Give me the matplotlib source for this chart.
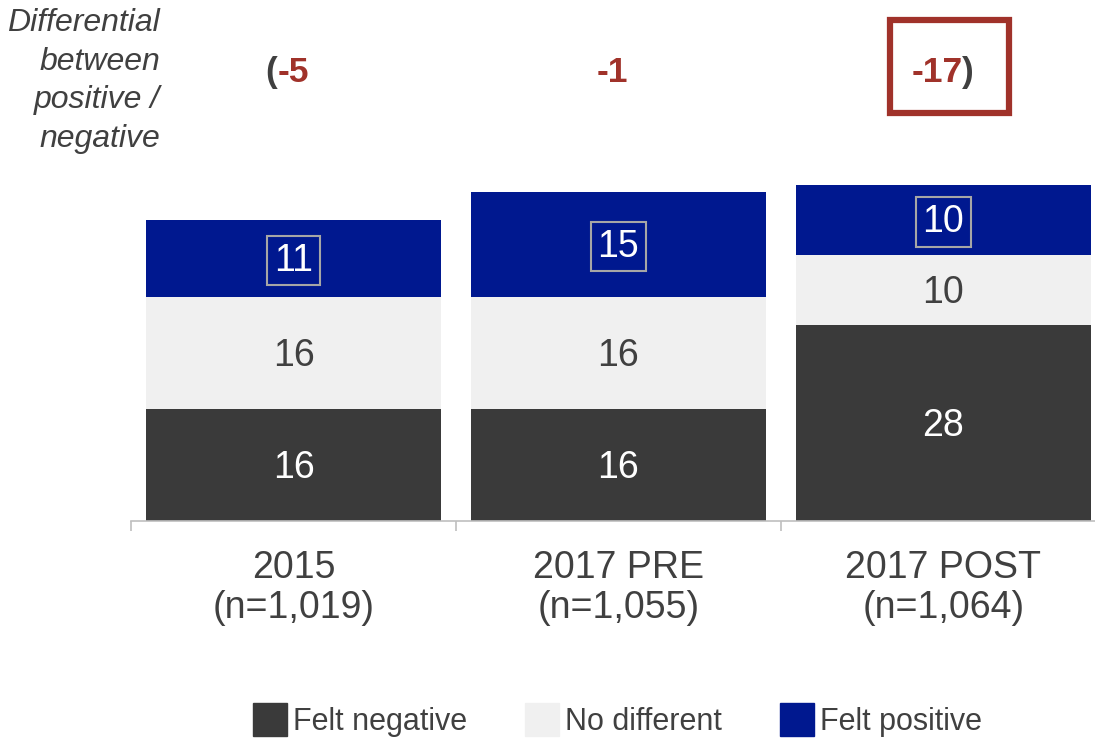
import numpy as np
import matplotlib
matplotlib.use("Agg")
import matplotlib.pyplot as plt
from matplotlib.patches import Rectangle, Patch

plt.rcParams['font.family'] = ['Liberation Sans', 'DejaVu Sans']

# data
groups = ['2015\n(n=1,019)', '2017 PRE\n(n=1,055)', '2017 POST\n(n=1,064)']
negative = [16, 16, 28]
no_diff = [16, 16, 10]
positive = [11, 15, 10]
diffs = [-5, -1, -17]

c_neg = '#3a3a3a'
c_mid = '#f0f0f0'
c_pos = '#00188f'
c_red = '#a0322a'
c_txt = '#404040'

fig = plt.figure(figsize=(10.95, 7.4), dpi=100)
ax = fig.add_axes([131 / 1095, (740 - 521) / 740, 1 - 131 / 1095, 521 / 740])

x = np.arange(len(groups))
w = 0.908
ax.bar(x, negative, w, color=c_neg)
ax.bar(x, no_diff, w, bottom=negative, color=c_mid)
bottom2 = np.array(negative) + np.array(no_diff)
ax.bar(x, positive, w, bottom=bottom2, color=c_pos)

fs = 27
for i in range(len(groups)):
    ax.text(x[i], negative[i] / 2 - 0.4, str(negative[i]), ha='center', va='center',
            color='white', fontsize=fs)
    ax.text(x[i], negative[i] + no_diff[i] / 2 - 0.4, str(no_diff[i]), ha='center',
            va='center', color=c_txt, fontsize=fs)
    ax.text(x[i], bottom2[i] + positive[i] / 2 - 0.3, str(positive[i]), ha='center',
            va='center', color='white', fontsize=fs,
            bbox=dict(boxstyle='square,pad=0.18', fc='none', ec='#a6a6a6', lw=1.5))

# differential row
dy = 64.1
dfs = 25.5
ax.text(x[0] - 0.05, dy, '(', ha='right', va='center', color=c_txt,
        fontsize=dfs, fontweight='bold')
ax.text(x[0] - 0.05, dy, str(diffs[0]), ha='left', va='center', color=c_red,
        fontsize=dfs, fontweight='bold')
ax.text(x[1] - 0.018, dy, str(diffs[1]), ha='center', va='center', color=c_red,
        fontsize=dfs, fontweight='bold')
ax.text(x[2] + 0.058, dy, str(diffs[2]), ha='right', va='center', color=c_red,
        fontsize=dfs, fontweight='bold')
ax.text(x[2] + 0.058, dy, ')', ha='left', va='center', color=c_txt,
        fontsize=dfs, fontweight='bold')
ax.add_patch(Rectangle((x[2] - 0.165, 58.3), 0.367, 13.3, fill=False,
                       ec=c_red, lw=4.5, clip_on=False))

fig.text(160 / 1095, 1 - 8 / 740, 'Differential\nbetween\npositive /\nnegative',
         ha='right', va='top', style='italic', color=c_txt, fontsize=23,
         linespacing=1.37)

for s in ['top', 'right', 'left']:
    ax.spines[s].set_visible(False)
ax.spines['bottom'].set_color('#bfbfbf')
ax.spines['bottom'].set_linewidth(1.2)
ax.set_yticks([])
ax.set_xticks(x)
ax.set_xticklabels(groups, fontsize=fs, color=c_txt, linespacing=1.13)
ax.tick_params(axis='x', which='major', length=0, pad=21)
ax.set_xticks([-0.5, 0.5, 1.5, 2.5], minor=True)
ax.tick_params(axis='x', which='minor', length=7.5, width=1.2, color='#bfbfbf')
ax.set_xlim(-0.5, (1095 - 293.5) / 325)
ax.set_ylim(0, 521 / 7)

handles = [Patch(color=c_neg), Patch(color=c_mid), Patch(color=c_pos)]
fig.legend(handles, ['Felt negative', 'No different', 'Felt positive'],
           loc='center', bbox_to_anchor=(0.564, 0.027), ncol=3, frameon=False,
           handlelength=1.1, handleheight=1.3, handletextpad=0.2,
           columnspacing=1.9, labelcolor=c_txt,
           prop={'family': ['Liberation Sans Narrow', 'Liberation Sans'], 'size': 22})

fig.savefig('out.png', dpi=100)
